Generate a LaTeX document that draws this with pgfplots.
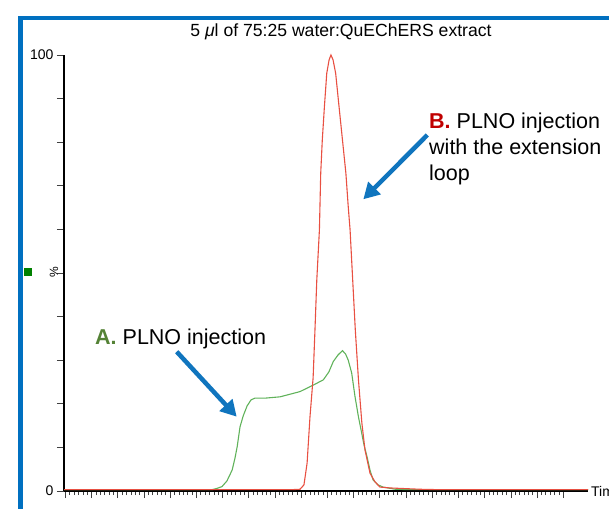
\documentclass[border=0pt]{standalone}
\usepackage{fontspec}
\setmainfont{Liberation Sans}
\usepackage{pgfplots}
\pgfplotsset{compat=1.18}
\usetikzlibrary{arrows.meta}
\definecolor{frameblue}{RGB}{0,112,192}
\definecolor{arrowblue}{RGB}{16,117,190}
\definecolor{tracered}{RGB}{232,80,66}
\definecolor{tracegreen}{RGB}{96,178,90}
\definecolor{labgreen}{RGB}{84,130,53}
\definecolor{labred}{RGB}{192,0,0}
\definecolor{sqgreen}{RGB}{0,128,0}
\begin{document}
\begin{tikzpicture}
\useasboundingbox (0,0) rectangle (609pt,508pt);
\draw[frameblue, line width=4.4pt] (20.5pt,-10pt) -- (20.5pt,490pt) -- (620pt,490pt);
\fill[sqgreen] (24pt,232pt) rectangle (32pt,240pt);
\begin{axis}[
  at={(64pt,17pt)}, anchor=south west,
  scale only axis, width=524pt, height=436pt,
  xmin=-0.057, xmax=19.94, ymin=0, ymax=100,
  axis x line*=bottom, axis y line*=left,
  x axis line style={line width=1.4pt, black},
  y axis line style={line width=2pt, black},
  xtick={0,...,19}, minor x tick num=5, xticklabels={},
  ytick={0,10,...,100}, yticklabels={0,,,,,,,,,,100},
  tick align=outside, major tick length=7pt, minor tick length=4pt,
  tick style={line width=0.9pt, black!75},
  ticklabel style={font=\fontsize{14}{14}\selectfont},
  /pgf/number format/assume math mode=true,
  clip=false,
]
\addplot[tracegreen, line width=1.1pt] coordinates {
(-0.057,0.3) (5.59,0.3) (5.78,0.6) (5.97,1.0) (6.16,2.3) (6.36,4.8) (6.47,7.6)
(6.55,10.1) (6.66,14.7) (6.78,17.2) (6.93,19.5) (7.08,20.9) (7.23,21.3) (7.62,21.3)
(8.19,21.6) (8.57,22.2) (8.95,22.8) (9.46,24.3) (9.84,25.5) (10.05,27.3) (10.22,29.7)
(10.40,31.2) (10.57,32.2) (10.69,31.4) (10.79,30.0) (10.92,27.1) (11.05,21.6)
(11.18,17.0) (11.28,14.0) (11.39,10.6) (11.51,7.8) (11.62,4.8) (11.74,2.5)
(11.93,1.4) (12.12,0.9) (12.58,0.4) (13.2,0.3) (19.94,0.3)
};
\addplot[tracered, line width=1.1pt] coordinates {
(-0.057,0.3) (8.6,0.3) (8.95,0.4) (9.10,1.4) (9.22,6.4) (9.33,17.0) (9.45,26.0)
(9.52,36.9) (9.59,48.4) (9.69,59.9) (9.74,72.9) (9.80,80.5) (9.88,88.1) (9.97,95.8)
(10.06,98.9) (10.13,100) (10.21,98.9) (10.31,95.8) (10.44,88.1) (10.57,80.5)
(10.70,72.9) (10.79,65.2) (10.86,59.9) (10.96,48.4) (11.06,36.9) (11.18,25.5)
(11.31,15.6) (11.43,9.4) (11.62,4.1) (11.81,2.1) (12.00,0.9) (12.39,0.7)
(12.77,0.6) (13.53,0.4) (14.3,0.3) (19.94,0.3)
};
\end{axis}
\node[font=\fontsize{17.6}{17.6}\selectfont, inner sep=0] at (341pt,476pt) {5 \textit{μ}l of 75:25 water:QuEChERS extract};
\node[font=\fontsize{12}{12}\selectfont, rotate=90, inner sep=0] at (54pt,236pt) {\%};
\node[font=\fontsize{14}{14}\selectfont, anchor=west, inner sep=0] at (591pt,17pt) {Time};
\node[font=\fontsize{21.5}{26}\selectfont, anchor=base west, inner sep=0] at (95pt,163pt) {\textcolor{labgreen}{\textbf{A.}} PLNO injection};
\node[font=\fontsize{21.5}{26}\selectfont, anchor=base west, inner sep=0] at (429pt,379pt) {\textcolor{labred}{\textbf{B.}} PLNO injection};
\node[font=\fontsize{21.5}{26}\selectfont, anchor=base west, inner sep=0] at (429pt,353pt) {with the extension};
\node[font=\fontsize{21.5}{26}\selectfont, anchor=base west, inner sep=0] at (429pt,327pt) {loop};
\draw[arrowblue, line width=4.5pt, -{Triangle[length=16pt,width=17pt]}] (176.7pt,156.3pt) -- (236.7pt,91.3pt);
\draw[arrowblue, line width=4.5pt, -{Triangle[length=16pt,width=17pt]}] (427.3pt,373pt) -- (363.3pt,308.7pt);
\end{tikzpicture}
\end{document}
